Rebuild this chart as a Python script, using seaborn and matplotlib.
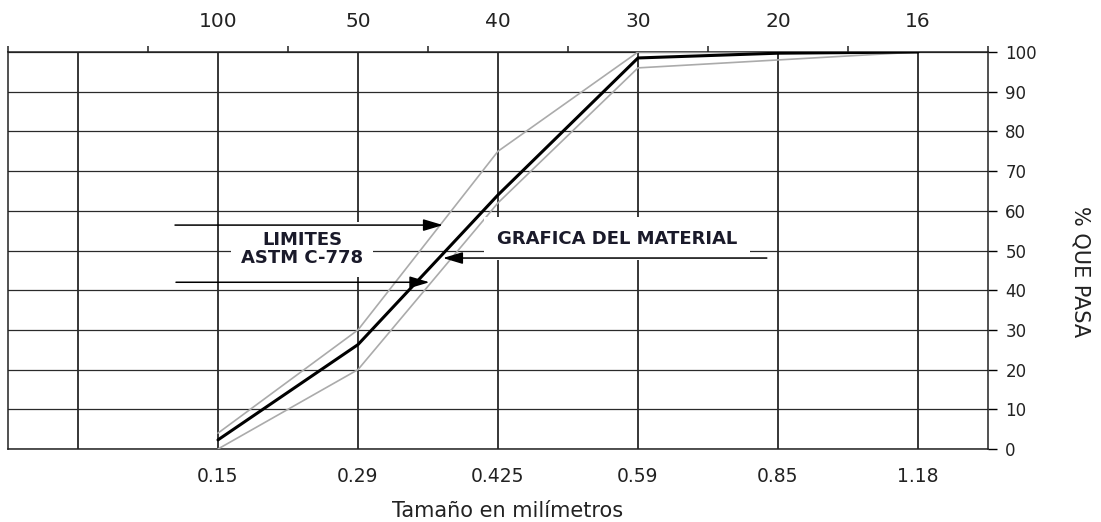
import numpy as np
import pandas as pd
import matplotlib
matplotlib.use("Agg")
import matplotlib.pyplot as plt
import seaborn as sns

# ---- data ----
sizes_mm = ["0.15", "0.29", "0.425", "0.59", "0.85", "1.18"]
mesh = ["100", "50", "40", "30", "20", "16"]
material = [2.3, 26.3, 64, 98.5, 99.7, 100]
upper_limit = [4, 30, 75, 100, 100, 100]
lower_limit = [0, 20, 62, 96, 98, 100]
y_ticks = [0, 10, 20, 30, 40, 50, 60, 70, 80, 90, 100]

sns.set_theme(style="white")
plt.rcParams["font.family"] = ["DejaVu Sans"]

pos = np.arange(1, len(sizes_mm) + 1)
df = pd.DataFrame({"pos": np.tile(pos, 3),
                   "pct": material + upper_limit + lower_limit,
                   "serie": ["material"] * 6 + ["sup"] * 6 + ["inf"] * 6})

fig = plt.figure(figsize=(11.01, 5.22), dpi=100)
W, H = 1101, 522
ax = fig.add_axes([8 / W, 1 - 449 / H, 980 / W, 397 / H])

sns.lineplot(data=df[df.serie == "sup"], x="pos", y="pct", color="#ababab",
             lw=1.2, ax=ax, zorder=3)
sns.lineplot(data=df[df.serie == "inf"], x="pos", y="pct", color="#ababab",
             lw=1.2, ax=ax, zorder=3)
sns.lineplot(data=df[df.serie == "material"], x="pos", y="pct", color="black",
             lw=2.2, ax=ax, zorder=4)

ax.set_xlim(-0.5, 6.5)
ax.set_ylim(0, 100)

# grid
for g in range(0, 7):
    ax.axvline(g, color="black", lw=1.1, zorder=1)
for yv in y_ticks:
    ax.axhline(yv, color="#2a2a2a", lw=0.9, zorder=1)

# bottom axis
ax.set_xticks(pos)
ax.set_xticklabels(sizes_mm, fontsize=13.5)
ax.tick_params(axis="x", bottom=True, length=0, pad=13, colors="#222222")

# right axis
ax.set_yticks(y_ticks)
ax.yaxis.tick_right()
ax.yaxis.set_label_position("right")
ax.tick_params(axis="y", right=True, left=False, direction="out", length=6.5,
               width=1, pad=6, labelsize=12, colors="black", labelcolor="#222222")

for s in ["left", "bottom", "right", "top"]:
    ax.spines[s].set_visible(True)
    ax.spines[s].set_color("#222222")
    ax.spines[s].set_linewidth(1.1)

# top axis
top = ax.secondary_xaxis("top")
top.set_xticks(pos)
top.set_xticklabels(mesh, fontsize=14.5)
top.set_xticks(np.arange(-0.5, 7, 1.0), minor=True)
top.tick_params(axis="x", which="major", length=0, pad=15, colors="#222222")
top.tick_params(axis="x", which="minor", length=4, width=1.1, direction="out",
                colors="#222222")
top.spines["top"].set_visible(False)

ax.set_xlabel("Tamaño en milímetros", fontsize=15, color="#222222")
ax.xaxis.set_label_coords(0.51, -0.132)
ax.set_ylabel("% QUE PASA", fontsize=15, rotation=270, color="#222222",
              ha="center", va="center")
ax.yaxis.set_label_coords(1.094, 0.448)

# annotations
ax.text(1.6, 50.3, "LIMITES\nASTM C-778", ha="center", va="center",
        fontsize=13, fontweight="bold", color="#1a1a2a",
        bbox=dict(facecolor="white", edgecolor="none", pad=7),
        linespacing=1.0, zorder=5)
ax.text(3.85, 53.0, "GRAFICA DEL MATERIAL", ha="center", va="center",
        fontsize=13, fontweight="bold", color="#1a1a2a",
        bbox=dict(facecolor="white", edgecolor="none", pad=9), zorder=5)

arrow = dict(arrowstyle="-|>,head_length=0.6,head_width=0.18", color="black",
             lw=1.1, shrinkA=0, shrinkB=0, mutation_scale=20)
ax.annotate("", xy=(2.607, 56.4), xytext=(0.693, 56.4), arrowprops=arrow, zorder=6)
ax.annotate("", xy=(2.51, 42.0), xytext=(0.70, 42.0), arrowprops=arrow, zorder=6)
ax.annotate("", xy=(2.607, 48.1), xytext=(4.92, 48.1), arrowprops=arrow, zorder=6)

fig.savefig("out.png", dpi=100, facecolor="white")
